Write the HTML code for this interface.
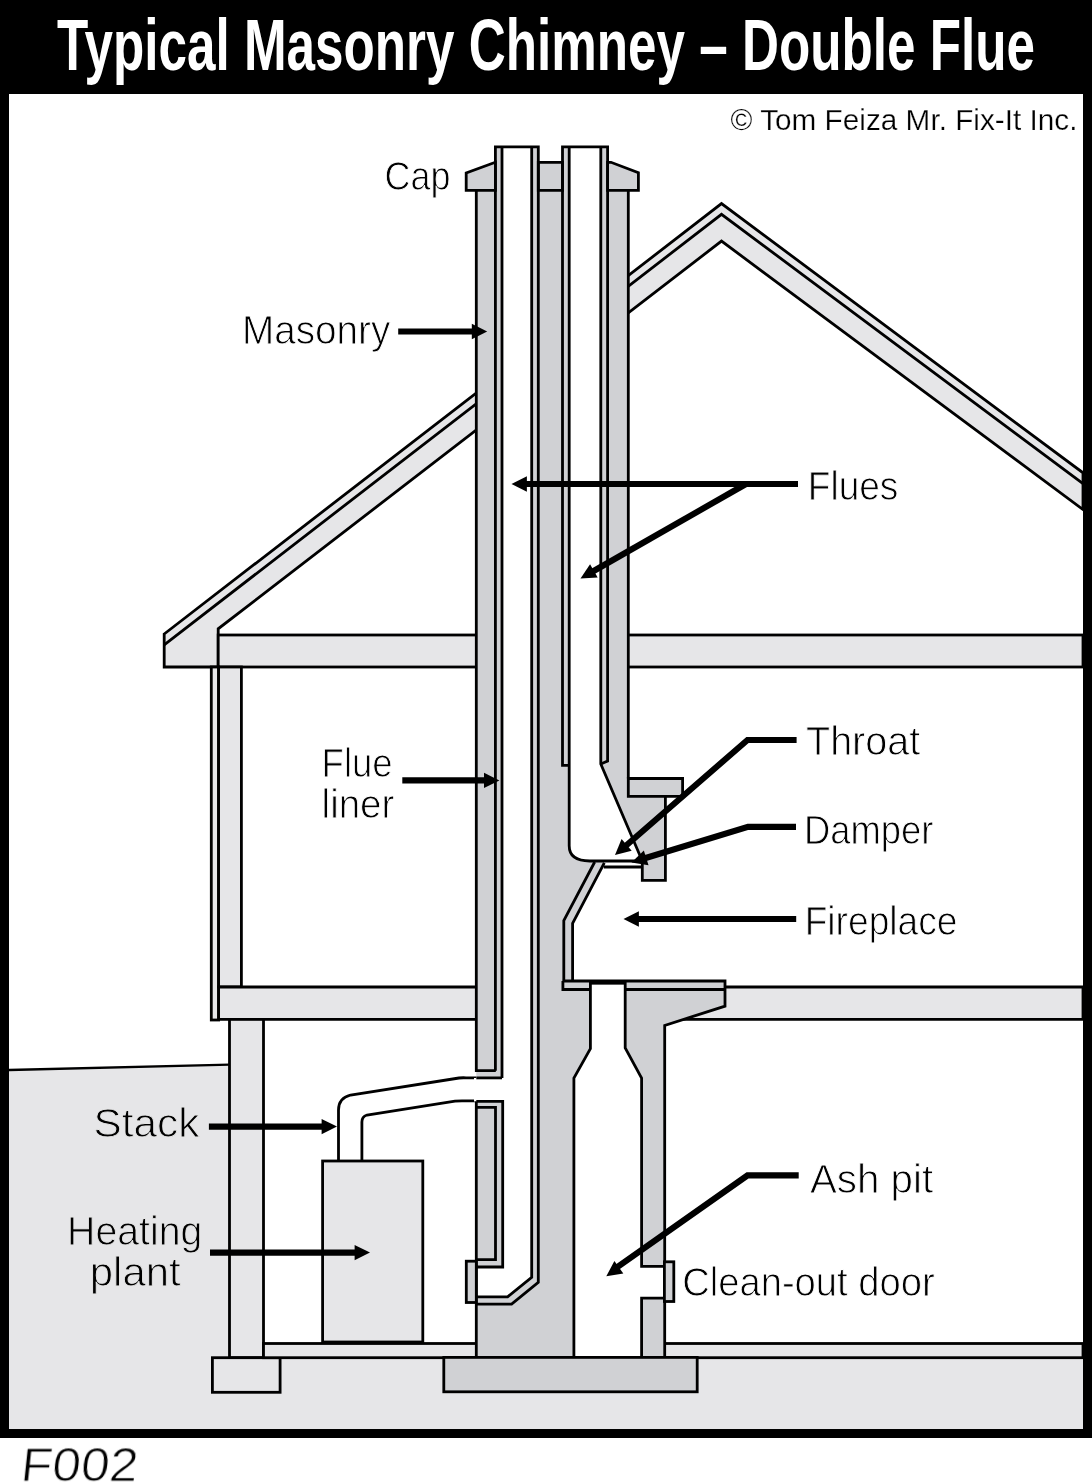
<!DOCTYPE html>
<html><head><meta charset="utf-8"><title>Typical Masonry Chimney - Double Flue</title>
<style>
html,body{margin:0;padding:0;background:#fff;}
svg{display:block;}
text{font-family:"Liberation Sans",sans-serif;}
</style></head><body>
<svg width="1092" height="1483" viewBox="0 0 1092 1483">
<!-- frame -->
<rect x="0" y="0" width="1092" height="1438" fill="#000"/>
<rect x="9" y="94" width="1074" height="1335" fill="#fff"/>
<text style="filter:grayscale(1)" x="57" y="70" fill="#fff" font-weight="bold" font-size="73" textLength="978" lengthAdjust="spacingAndGlyphs">Typical Masonry Chimney – Double Flue</text>

<g id="drawing" stroke="#000" stroke-width="2.8" stroke-linejoin="miter" fill="none">
<!-- ground -->
<path d="M9,1070 L229.5,1064.6 V1343.5 H1083 V1429 H9 Z" fill="#e6e6e8" stroke="none"/>
<path d="M9,1070 L229.5,1064.6" stroke-width="2.4"/>

<!-- roof -->
<path d="M164.2,634 L721.5,203.6 L1083,472.8 V509.5 L721.5,241.1 L218.2,628.8 V667 H164.2 Z" fill="#e6e6e8"/>
<path d="M164.2,644.8 L721.5,214.3 L1083,483.6"/>

<!-- upper floor band -->
<rect x="218.2" y="635" width="864.8" height="32" fill="#e6e6e8"/>
<!-- upper wall -->
<rect x="211.3" y="667" width="7.3" height="353" fill="#e6e6e8"/>
<rect x="218.6" y="667" width="22.8" height="320" fill="#e6e6e8"/>
<!-- first floor band -->
<path d="M218.6,987 H1083 V1019.4 H218.6 Z" fill="#e6e6e8"/>
<!-- basement wall -->
<rect x="229.5" y="1019.4" width="34" height="338.3" fill="#e6e6e8"/>
<rect x="212.4" y="1357.7" width="67.7" height="34.6" fill="#e6e6e8"/>
<!-- slab -->
<rect x="263.5" y="1343.5" width="819.5" height="14.2" fill="#e6e6e8"/>

<!-- heating plant -->
<rect x="322.6" y="1161" width="100.2" height="181" fill="#e6e6e8"/>
<!-- stack -->
<path d="M476.3,1077.8 H466 Q462,1077.6 459,1078 L350.6,1095 Q338.5,1098 338.5,1110 V1160"/>
<path d="M502,1100.8 H462 Q458,1100.8 455,1101.2 L367,1115 Q361.9,1116.5 361.9,1122 V1160"/>

<!-- chimney masonry fill -->
<path d="M476.3,190.4 H628.3 V778.5 H682.6 V796.3 H665.4 V880.3 H642.3 V867 H603.8 L572.6,923.3 V981 H725 V1006.2 L664.7,1025.4 V1357.5 H476.3 Z" fill="#d0d1d4" stroke="none"/>
<!-- flue1 interior -->
<path d="M502,146.8 H531.7 V1277.4 L507.6,1296.8 H476.3 V1267 H502.7 V1101.4 H474 V1077.9 H502 Z" fill="#fff" stroke="none"/>
<!-- flue2 interior -->
<path d="M569.2,146.8 H600.8 V764 L642.3,861 H589.8 Q569.2,861 569.2,845.8 Z" fill="#fff" stroke="none"/>
<!-- damper strip -->
<rect x="604.3" y="861.5" width="38" height="5.5" fill="#fff" stroke="none"/>
<!-- ash pit -->
<path d="M590.4,984.6 H625.2 V1047.8 L641.6,1078 V1266.4 H664.7 V1298.2 H641.6 V1357.5 H573.9 V1078 L590.4,1048.7 Z" fill="#fff" stroke="none"/>
<!-- liner strips top above cap (gray) -->
<rect x="495.4" y="146.8" width="6.6" height="45" fill="#d0d1d4" stroke="none"/>
<rect x="531.7" y="146.8" width="6.6" height="45" fill="#d0d1d4" stroke="none"/>
<rect x="562.5" y="146.8" width="6.7" height="45" fill="#d0d1d4" stroke="none"/>
<rect x="600.8" y="146.8" width="6.8" height="45" fill="#d0d1d4" stroke="none"/>

<!-- chimney footing -->
<rect x="443.8" y="1357.4" width="253.4" height="34.4" fill="#d0d1d4"/>
<!-- cap -->
<path d="M495.4,162.3 L466.2,173 V190.4 H495.4 Z" fill="#d0d1d4"/>
<path d="M538.3,162.3 H562.5 V190.4 H538.3 Z" fill="#d0d1d4"/>
<path d="M607.6,162.3 H611 L638.4,172.6 V190.4 H607.6 Z" fill="#d0d1d4"/>

<!-- chimney strokes -->
<path d="M476.3,190.4 V1070.7 H495.8"/>
<path d="M476.3,1077.9 H502"/>
<path d="M476.3,1101.4 V1357.5"/>
<path d="M495.4,1070.7 V146.8 H538.3 V1282.3 L511.6,1304.1 H476.3"/>
<path d="M502,146.8 V1077.9"/>
<path d="M531.7,146.8 V1277.4 L507.6,1296.8 H476.3"/>
<path d="M476.3,1101.4 H502.7 V1267 H476.3"/>
<path d="M476.3,1107.4 H495.5 V1259.6 H476.3"/>
<rect x="466.3" y="1261.2" width="10" height="41.3" fill="#d0d1d4"/>

<path d="M569.2,765.4 H562.5 V146.8 H607.6 V761 L600.8,764"/>
<path d="M569.2,146.8 V845.8 Q569.2,861 589.8,861 H642.3"/>
<path d="M600.8,146.8 V764 L642.3,861"/>

<path d="M628.3,190.4 V778.5"/>
<path d="M628.3,778.5 H682.6 V796.3 H628.3 Z" fill="#d0d1d4"/>
<path d="M665.4,796.3 V880.3 H642.3 V861"/>
<path d="M603.8,867 H642.3"/>
<path d="M594.7,862 L563.8,920.5 V981"/>
<path d="M604.3,862.9 L572.6,923.3 V981"/>

<path d="M562.9,981 H725 V1006.2 L664.7,1025.4 V1266.4 H641.6 V1078 L625.2,1047.8 V981"/>
<path d="M625.2,989.5 H725"/>
<path d="M562.9,981 V989.5 H590.4"/>
<path d="M590.4,981 V1048.7 L573.9,1078 V1357.5"/>
<path d="M664.7,1298.2 H641.6 V1357.5"/>
<path d="M664.7,1298.2 V1357.5"/>
<rect x="590.4" y="980" width="34.8" height="4.6" fill="#000" stroke="none"/>
<rect x="664.4" y="1261.8" width="9.4" height="39.7" fill="#d0d1d4"/>
</g>

<!-- arrows -->
<g stroke="#000" stroke-width="6.1" fill="none" stroke-linejoin="miter">
<path d="M398.2,331.5 H475"/>
<path d="M798,484 H523"/>
<path d="M746,484 L591,572.5"/>
<path d="M796.6,740 H747.5 L625,846.5"/>
<path d="M796,826.9 H748 L644,858.5"/>
<path d="M796.2,919 H636"/>
<path d="M402.3,780.4 H487"/>
<path d="M208.9,1126.6 H325"/>
<path d="M210,1252.6 H358"/>
<path d="M798.7,1175.4 H747.5 L616,1268"/>
</g>
<g fill="#000">
<path id="ah" d="M0,0 L-15.4,-7.7 L-15.4,7.7 Z" transform="translate(487.2,331.5)"/>
<path d="M0,0 L-15.4,-7.7 L-15.4,7.7 Z" transform="translate(511.5,484) rotate(180)"/>
<path d="M0,0 L-15.4,-7.7 L-15.4,7.7 Z" transform="translate(580.5,578.5) rotate(150.3)"/>
<path d="M0,0 L-15.4,-7.7 L-15.4,7.7 Z" transform="translate(615,855) rotate(139)"/>
<path d="M0,0 L-15.4,-7.7 L-15.4,7.7 Z" transform="translate(631.5,862.5) rotate(162.5)"/>
<path d="M0,0 L-15.4,-7.7 L-15.4,7.7 Z" transform="translate(623.5,919) rotate(180)"/>
<path d="M0,0 L-15.4,-7.7 L-15.4,7.7 Z" transform="translate(499.4,780.4)"/>
<path d="M0,0 L-15.4,-7.7 L-15.4,7.7 Z" transform="translate(337,1126.6)"/>
<path d="M0,0 L-15.4,-7.7 L-15.4,7.7 Z" transform="translate(370,1252.6)"/>
<path d="M0,0 L-15.4,-7.7 L-15.4,7.7 Z" transform="translate(606.3,1276.2) rotate(144.6)"/>
</g>

<!-- labels -->
<g fill="#000" font-size="40" stroke="#fff" stroke-width="0.9" style="filter:grayscale(1)">
<text x="384.5" y="189.5" textLength="65.9" lengthAdjust="spacingAndGlyphs">Cap</text>
<text x="242.0" y="343.9" textLength="148.3" lengthAdjust="spacingAndGlyphs">Masonry</text>
<text x="807.8" y="499.5" textLength="90.6" lengthAdjust="spacingAndGlyphs">Flues</text>
<text x="806.0" y="754.5" textLength="114.2" lengthAdjust="spacingAndGlyphs">Throat</text>
<text x="804.0" y="843.5" textLength="129.4" lengthAdjust="spacingAndGlyphs">Damper</text>
<text x="804.7" y="935.0" textLength="152.7" lengthAdjust="spacingAndGlyphs">Fireplace</text>
<text x="321.6" y="776.8" textLength="71.0" lengthAdjust="spacingAndGlyphs">Flue</text>
<text x="321.6" y="818.1" textLength="72.7" lengthAdjust="spacingAndGlyphs">liner</text>
<text stroke="#e6e6e8" x="93.6" y="1136.9" textLength="105.7" lengthAdjust="spacingAndGlyphs">Stack</text>
<text stroke="#e6e6e8" x="67.1" y="1245.3" textLength="135.2" lengthAdjust="spacingAndGlyphs">Heating</text>
<text stroke="#e6e6e8" x="89.8" y="1286.4" textLength="90.9" lengthAdjust="spacingAndGlyphs">plant</text>
<text x="809.9" y="1192.9" textLength="123.3" lengthAdjust="spacingAndGlyphs">Ash pit</text>
<text x="682.2" y="1296.2" textLength="252.4" lengthAdjust="spacingAndGlyphs">Clean-out door</text>
<text x="730.5" y="129.5" font-size="29" stroke-width="0.25" textLength="347" lengthAdjust="spacingAndGlyphs">© Tom Feiza Mr. Fix-It Inc.</text>
<text transform="translate(19.5,1481.5) skewX(-6)" x="0" y="0" font-size="47" textLength="117" lengthAdjust="spacingAndGlyphs">F002</text>
</g>
</svg>
</body></html>
